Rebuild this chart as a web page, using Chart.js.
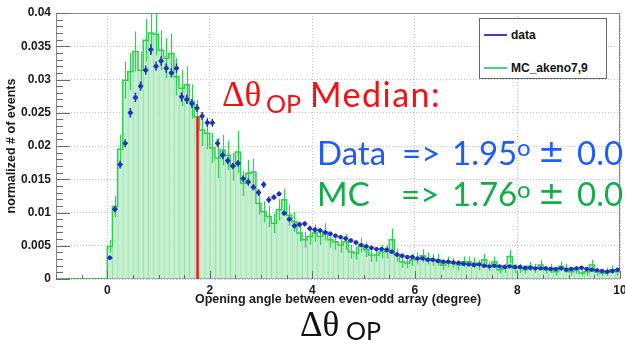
<!DOCTYPE html>
<html>
<head>
<meta charset="utf-8">
<script src="https://cdn.jsdelivr.net/npm/chart.js@4/dist/chart.umd.min.js"></script>
<style>
  body { margin: 0; background: #fff; }
  #stage { position: relative; width: 625px; height: 343px; overflow: hidden; }
  #stage canvas { position: absolute; left: 0; top: 0; }
  .txt { position: absolute; white-space: nowrap; line-height: 1; }
  .cal { font-family: Lato, "Open Sans", sans-serif; }
  .times { font-family: "Liberation Serif", "DejaVu Serif", serif; }
  .pm { font-family: "DejaVu Sans", sans-serif; }
  .red { color: #f21212; }
  .blue { color: #1f5cff; }
  .green { color: #13ad4a; }
  #legend {
    position: absolute; left: 479px; top: 18px; width: 126px; height: 59px;
    border: 1px solid #666; background: #fff;
    font: bold 12px "Liberation Sans", Arial, sans-serif; color: #111;
  }
  #legend .row { position: absolute; left: 0; height: 14px; line-height: 14px; }
  #legend .swatch { position: absolute; left: 4px; top: 6px; width: 23px; height: 2px; }
  #legend .label { position: absolute; left: 31px; top: 0; }
</style>
</head>
<body>
<div id="stage">
  <canvas id="plot" width="625" height="343"></canvas>

  <div id="legend">
    <div class="row" style="top:9px"><span class="swatch" style="background:#3b3bd4"></span><span class="label">data</span></div>
    <div class="row" style="top:42px"><span class="swatch" style="background:#45d486"></span><span class="label">MC_akeno7,9</span></div>
  </div>

  <div class="txt times red" style="left:222px;top:77px;font-size:35px">Δθ</div>
  <div class="txt cal red" style="left:266px;top:91px;font-size:25px">OP</div>
  <div class="txt cal red" style="left:310px;top:77px;font-size:34px;letter-spacing:1.5px">Median:</div>

  <div class="txt cal blue" style="left:317px;top:136px;font-size:33px">Data</div>
  <div class="txt cal blue" style="left:402px;top:136px;font-size:33px">=&gt;</div>
  <div class="txt cal blue" style="left:452px;top:136px;font-size:33px">1.95</div>
  <div class="txt cal blue" style="left:517px;top:135px;font-size:24px">o</div>
  <div class="txt pm blue" style="left:538px;top:135px;font-size:32px">±</div>
  <div class="txt cal blue" style="left:577px;top:136px;font-size:33px">0.0</div>

  <div class="txt cal green" style="left:317px;top:177px;font-size:33px">MC</div>
  <div class="txt cal green" style="left:401px;top:177px;font-size:33px">=&gt;</div>
  <div class="txt cal green" style="left:452px;top:177px;font-size:33px">1.76</div>
  <div class="txt cal green" style="left:517px;top:177px;font-size:24px">o</div>
  <div class="txt pm green" style="left:538px;top:177px;font-size:32px">±</div>
  <div class="txt cal green" style="left:577px;top:177px;font-size:33px">0.0</div>

  <div class="txt times" style="left:300px;top:307px;font-size:35px;color:#111">Δθ</div>
  <div class="txt cal" style="left:346px;top:318px;font-size:25px;color:#111">OP</div>
</div>

<script>
// opening angle histograms, 0.1 degree bins from 0 to 10
const binWidth = 0.1;

const dataValues = [
    0.0032, 0.0105, 0.0172, 0.0204, 0.0250, 0.0273, 0.0290, 0.0314, 0.0345, 0.0320,
    0.0328, 0.0317, 0.0310, 0.0317, 0.0274, 0.0270, 0.0264, 0.0257, 0.0245, 0.0235,
    0.0235, 0.0204, 0.0186, 0.0178, 0.0170, 0.0174, 0.0151, 0.0146, 0.0138, 0.0130,
    0.0142, 0.0119, 0.0123, 0.0128, 0.0099, 0.0090, 0.0080, 0.0082, 0.0083, 0.0076,
    0.0074, 0.0073, 0.0070, 0.0068, 0.0065, 0.0063, 0.0061, 0.0058, 0.0055, 0.0051,
    0.0049, 0.0047, 0.0045, 0.0045, 0.0044, 0.0041, 0.0037, 0.0035, 0.0033, 0.0033,
    0.0031, 0.0031, 0.0029, 0.0029, 0.0027, 0.0026, 0.0026, 0.0025, 0.0024, 0.0023,
    0.0022, 0.0021, 0.0022, 0.0020, 0.0019, 0.0020, 0.0019, 0.0018, 0.0019, 0.0018,
    0.0018, 0.0017, 0.0017, 0.0016, 0.0016, 0.0016, 0.0015, 0.0015, 0.0016, 0.0014,
    0.0015, 0.0016, 0.0017, 0.0015, 0.0014, 0.0013, 0.0012, 0.0011, 0.0012, 0.0014
];

const dataErrors = [
    0.0003, 0.0005, 0.0006, 0.0006, 0.0007, 0.0007, 0.0007, 0.0007, 0.0008, 0.0007,
    0.0007, 0.0007, 0.0007, 0.0007, 0.0007, 0.0007, 0.0007, 0.0006, 0.0006, 0.0006,
    0.0006, 0.0006, 0.0006, 0.0005, 0.0005, 0.0005, 0.0005, 0.0005, 0.0005, 0.0005,
    0.0005, 0.0005, 0.0004, 0.0004, 0.0004, 0.0004, 0.0004, 0.0004, 0.0004, 0.0004,
    0.0004, 0.0003, 0.0003, 0.0003, 0.0003, 0.0003, 0.0003, 0.0003, 0.0003, 0.0003,
    0.0003, 0.0003, 0.0003, 0.0003, 0.0003, 0.0003, 0.0003, 0.0003, 0.0003, 0.0003,
    0.0002, 0.0002, 0.0002, 0.0002, 0.0002, 0.0002, 0.0002, 0.0002, 0.0002, 0.0002,
    0.0002, 0.0002, 0.0002, 0.0002, 0.0002, 0.0002, 0.0002, 0.0002, 0.0002, 0.0002,
    0.0002, 0.0002, 0.0002, 0.0002, 0.0002, 0.0002, 0.0002, 0.0002, 0.0002, 0.0002,
    0.0002, 0.0002, 0.0002, 0.0002, 0.0002, 0.0002, 0.0002, 0.0002, 0.0002, 0.0002
];

const mcValues = [
    0.0049, 0.0109, 0.0195, 0.0299, 0.0312, 0.0342, 0.0314, 0.0359, 0.0370, 0.0368,
    0.0344, 0.0332, 0.0339, 0.0304, 0.0287, 0.0292, 0.0267, 0.0244, 0.0224, 0.0219,
    0.0197, 0.0182, 0.0194, 0.0186, 0.0169, 0.0191, 0.0144, 0.0159, 0.0161, 0.0114,
    0.0101, 0.0094, 0.0084, 0.0104, 0.0119, 0.0096, 0.0086, 0.0069, 0.0059, 0.0064,
    0.0069, 0.0064, 0.0071, 0.0059, 0.0056, 0.0051, 0.0056, 0.0041, 0.0039, 0.0051,
    0.0044, 0.0036, 0.0036, 0.0041, 0.0041, 0.0059, 0.0036, 0.0026, 0.0024, 0.0029,
    0.0031, 0.0035, 0.0031, 0.0029, 0.0029, 0.0021, 0.0026, 0.0024, 0.0021, 0.0026,
    0.0026, 0.0024, 0.0021, 0.0029, 0.0019, 0.0026, 0.0014, 0.0016, 0.0034, 0.0016,
    0.0016, 0.0014, 0.0019, 0.0016, 0.0021, 0.0014, 0.0016, 0.0011, 0.0019, 0.0016,
    0.0011, 0.0014, 0.0009, 0.0011, 0.0021, 0.0011, 0.0009, 0.0011, 0.0014, 0.0011
];

const mcErrors = [
    0.0010, 0.0016, 0.0022, 0.0028, 0.0028, 0.0030, 0.0028, 0.0032, 0.0032, 0.0032,
    0.0030, 0.0030, 0.0030, 0.0028, 0.0027, 0.0028, 0.0026, 0.0025, 0.0024, 0.0024,
    0.0023, 0.0030, 0.0023, 0.0022, 0.0021, 0.0032, 0.0019, 0.0020, 0.0020, 0.0017,
    0.0016, 0.0016, 0.0015, 0.0016, 0.0017, 0.0016, 0.0015, 0.0013, 0.0012, 0.0013,
    0.0013, 0.0013, 0.0013, 0.0012, 0.0012, 0.0011, 0.0012, 0.0010, 0.0010, 0.0011,
    0.0011, 0.0010, 0.0010, 0.0010, 0.0010, 0.0017, 0.0010, 0.0009, 0.0008, 0.0009,
    0.0009, 0.0010, 0.0009, 0.0009, 0.0009, 0.0008, 0.0008, 0.0008, 0.0008, 0.0008,
    0.0008, 0.0008, 0.0008, 0.0009, 0.0007, 0.0008, 0.0006, 0.0007, 0.0010, 0.0007,
    0.0007, 0.0006, 0.0007, 0.0007, 0.0008, 0.0006, 0.0007, 0.0006, 0.0007, 0.0007,
    0.0006, 0.0006, 0.0005, 0.0006, 0.0008, 0.0006, 0.0005, 0.0006, 0.0006, 0.0006
];

const xTicks = [0, 2, 4, 6, 8, 10];
const medianMC = 1.76;

const dataColor = "#2030c0";
const mcColor = "#2fcf52";

function binCenter(i) {
    return +(binWidth * (i + 0.5)).toFixed(2);
}

function binEdge(i) {
    return +(binWidth * i).toFixed(1);
}

// MC outline: empty from -1 to 0, then one step per bin
const mcSteps = [{ x: -1, y: 0 }];
mcValues.forEach((v, i) => mcSteps.push({ x: binEdge(i), y: v }));
mcSteps.push({ x: binEdge(mcValues.length), y: mcValues[mcValues.length - 1] });

const medianBin = Math.floor(medianMC / binWidth);

// error bars drawn around the matching dataset
const errorBars = {
    id: "errorBars",
    beforeDatasetDraw(chart, args) {
        if (args.meta.label !== "data") return;
        const { ctx, chartArea, scales: { x, y } } = chart;
        ctx.save();
        ctx.beginPath();
        ctx.rect(chartArea.left, chartArea.top, chartArea.right - chartArea.left, chartArea.bottom - chartArea.top);
        ctx.clip();
        ctx.strokeStyle = dataColor;
        ctx.lineWidth = 1.5;
        ctx.beginPath();
        dataValues.forEach((v, i) => {
            const c = binCenter(i);
            const py = y.getPixelForValue(v);
            const px = x.getPixelForValue(c);
            ctx.moveTo(x.getPixelForValue(c - binWidth / 2), py);
            ctx.lineTo(x.getPixelForValue(c + binWidth / 2), py);
            ctx.moveTo(px, y.getPixelForValue(v - dataErrors[i]));
            ctx.lineTo(px, y.getPixelForValue(v + dataErrors[i]));
        });
        ctx.stroke();
        ctx.restore();
    },
    afterDatasetDraw(chart, args) {
        if (args.meta.label !== "MC_akeno7,9") return;
        const { ctx, chartArea, scales: { x, y } } = chart;
        ctx.save();
        ctx.beginPath();
        ctx.rect(chartArea.left, chartArea.top, chartArea.right - chartArea.left, chartArea.bottom - chartArea.top);
        ctx.clip();
        ctx.strokeStyle = mcColor;
        ctx.lineWidth = 1.2;
        ctx.beginPath();
        mcValues.forEach((v, i) => {
            const px = Math.round(x.getPixelForValue(binCenter(i))) + 0.5;
            ctx.moveTo(px, y.getPixelForValue(v - mcErrors[i]));
            ctx.lineTo(px, y.getPixelForValue(v + mcErrors[i]));
        });
        ctx.stroke();
        ctx.restore();
    }
};

// frame round the plot and inward tick marks
const frame = {
    id: "frame",
    beforeDatasetsDraw(chart) {
        const { ctx, chartArea: a } = chart;
        ctx.save();
        ctx.strokeStyle = "#8a8a8a";
        ctx.lineWidth = 1;
        ctx.strokeRect(a.left + 0.5, a.top + 0.5, a.right - a.left - 1, a.bottom - a.top - 1);
        ctx.restore();
    },
    afterDatasetsDraw(chart) {
        const { ctx, chartArea: a, scales: { x, y } } = chart;
        ctx.save();
        ctx.strokeStyle = "#6a6a6a";
        ctx.lineWidth = 1;
        ctx.beginPath();
        for (let k = 0; k <= 40; k++) {
            const py = Math.round(y.getPixelForValue(k * 0.001)) + 0.5;
            const len = k % 5 === 0 ? 14 : 7;
            ctx.moveTo(a.left, py);
            ctx.lineTo(a.left + len, py);
        }
        for (let k = -2; k <= 20; k++) {
            const px = Math.round(x.getPixelForValue(k * 0.5)) + 0.5;
            const len = k % 4 === 0 ? 8 : 4;
            ctx.moveTo(px, a.bottom);
            ctx.lineTo(px, a.bottom - len);
        }
        ctx.stroke();
        ctx.restore();
    }
};

Chart.defaults.font.family = "'Liberation Sans', Arial, sans-serif";

new Chart(document.getElementById("plot"), {
    type: "scatter",
    data: {
        datasets: [
            {
                type: "scatter",
                label: "data",
                data: dataValues.map((v, i) => ({ x: binCenter(i), y: v })),
                pointRadius: 2.2,
                pointBackgroundColor: dataColor,
                pointBorderWidth: 0,
                order: 0
            },
            {
                type: "line",
                label: "median",
                data: [{ x: medianMC, y: 0 }, { x: medianMC, y: mcValues[medianBin] }],
                borderColor: "#f01414",
                borderWidth: 2.5,
                pointRadius: 0,
                order: 1
            },
            {
                type: "line",
                label: "MC_akeno7,9",
                data: mcSteps,
                stepped: true,
                borderColor: mcColor,
                borderWidth: 1.5,
                pointRadius: 0,
                fill: false,
                order: 2
            },
            {
                type: "bar",
                label: "MC fill",
                data: mcValues.map((v, i) => ({ x: binCenter(i), y: v })),
                backgroundColor: "#c4f0d0",
                borderColor: "#96dcab",
                borderWidth: { left: 1, right: 0, top: 0, bottom: 0 },
                barPercentage: 1,
                categoryPercentage: 1,
                order: 3
            }
        ]
    },
    options: {
        responsive: false,
        animation: false,
        events: [],
        layout: { padding: { left: 0, right: 5, top: 13, bottom: 0 } },
        plugins: {
            legend: { display: false },
            tooltip: { enabled: false }
        },
        scales: {
            x: {
                type: "linear",
                min: -1,
                max: 10,
                offset: false,
                afterBuildTicks: scale => {
                    scale.ticks = xTicks.map(v => ({ value: v }));
                },
                afterFit: scale => {
                    scale.height = 64;
                    scale.paddingLeft = 0;
                    scale.paddingRight = 0;
                },
                grid: { color: "#c2c2c2", drawTicks: false, offset: false },
                border: { display: false, dash: [1, 2] },
                ticks: {
                    padding: 4,
                    maxRotation: 0,
                    autoSkip: false,
                    color: "#1a1a1a",
                    font: { size: 12, weight: "bold" }
                },
                title: {
                    display: true,
                    text: "Opening angle between even-odd array (degree)",
                    color: "#1a1a1a",
                    font: { size: 12.5, weight: "bold" },
                    padding: { top: 0, bottom: 36 }
                }
            },
            y: {
                type: "linear",
                min: 0,
                max: 0.04,
                afterFit: scale => {
                    scale.width = 56;
                    scale.paddingTop = 0;
                    scale.paddingBottom = 0;
                },
                grid: { color: "#c2c2c2", drawTicks: false },
                border: { display: false, dash: [1, 2] },
                ticks: {
                    stepSize: 0.005,
                    padding: 5,
                    color: "#1a1a1a",
                    font: { size: 12, weight: "bold" },
                    callback: v => String(+v.toFixed(3))
                },
                title: {
                    display: true,
                    text: "normalized # of events",
                    color: "#1a1a1a",
                    font: { size: 12.5, weight: "bold" },
                    padding: { top: 4, bottom: 0 }
                }
            }
        }
    },
    plugins: [frame, errorBars]
});
</script>
</body>
</html>
